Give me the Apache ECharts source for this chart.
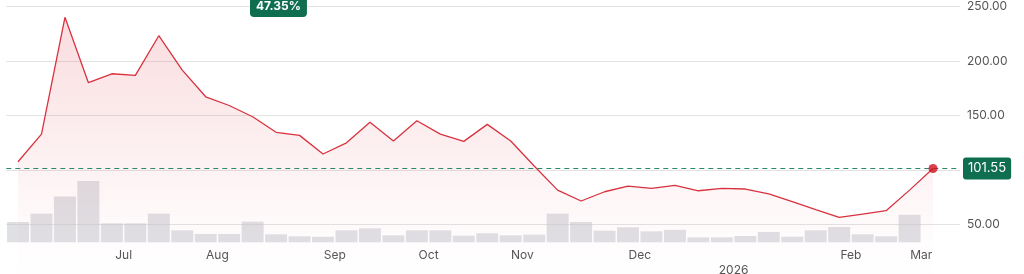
<!DOCTYPE html>
<html>
<head>
<meta charset="utf-8">
<script src="https://cdn.jsdelivr.net/npm/echarts@6/dist/echarts.min.js"></script>
<style>html,body{margin:0;padding:0;background:#fff;overflow:hidden}#c{width:1024px;height:274px}</style>
</head>
<body>
<div id="c"></div>
<script>
// Weekly closing prices (oldest -> latest)
const prices = [107.7, 133.1, 240.2, 180.2, 188.4, 187.0, 223.3, 191.8, 167.3, 159.3,
  149.0, 134.7, 131.9, 114.8, 125.1, 143.9, 126.7, 145.3, 133.1, 126.4,
  142.0, 126.7, 103.8, 81.7, 71.7, 80.2, 85.4, 83.3, 86.1, 81.1,
  83.3, 82.7, 78.3, 71.2, 63.9, 56.7, 59.7, 62.8, 81.7, 101.55];
// Weekly volume (millions)
const volumes = [2.03, 2.87, 4.57, 6.13, 1.9, 1.9, 2.87, 1.2, 0.83, 0.83,
  2.07, 0.8, 0.6, 0.55, 1.2, 1.4, 0.7, 1.2, 1.2, 0.66,
  0.9, 0.7, 0.77, 2.87, 2.03, 1.17, 1.5, 1.1, 1.25, 0.5,
  0.5, 0.63, 1.03, 0.57, 1.2, 1.53, 0.8, 0.6, 2.75, null];
// First week index of each month and its label
const monthStarts = [5, 9, 14, 18, 22, 27, 31, 36, 39];
const monthLabels = ['Jul', 'Aug', 'Sep', 'Oct', 'Nov', 'Dec', '2026', 'Feb', 'Mar'];
const priceTicks = [50, 100, 150, 200, 250];
const changeLabel = '47.35%';

const FONT = 'Inter, Roboto, sans-serif';
const lastIdx = prices.length - 1;
const lastPrice = prices[lastIdx];
const labelPos = monthStarts.map(s => s - 0.5);
const labelMap = {};
labelPos.forEach((p, k) => { labelMap[p.toFixed(1)] = monthLabels[k]; });

const chart = echarts.init(document.getElementById('c'), null, {renderer: 'canvas', width: 1024, height: 274});
const xCommon = {type: 'value', min: -0.5, max: 40.15, splitLine: {show: false}, axisLine: {show: false}, axisTick: {show: false}};
chart.setOption({
  animation: false,
  title: {
    text: changeLabel, left: 250, top: -5,
    backgroundColor: '#0f6e50', borderRadius: 4, padding: [5, 6],
    textStyle: {color: '#fff', fontSize: 12, fontWeight: 'bold', fontFamily: FONT, lineHeight: 12}
  },
  grid: [
    {left: 6.3, width: 953.7, top: 6.6, height: 272.6, outerBoundsMode: 'none', containLabel: false},
    {left: 6.3, width: 953.7, top: 172.3, height: 70, outerBoundsMode: 'none', containLabel: false}
  ],
  xAxis: [
    Object.assign({gridIndex: 0, axisLabel: {show: false}}, xCommon),
    Object.assign({gridIndex: 1, axisLabel: {
      show: true, customValues: labelPos, margin: 6, color: '#555', fontSize: 12, fontFamily: FONT,
      lineHeight: 14.5,
      formatter: v => { const t = labelMap[v.toFixed(1)]; if (!t) return ''; return /^\d+$/.test(t) ? '\n' + t : t; }
    }}, xCommon)
  ],
  yAxis: [
    {gridIndex: 0, type: 'value', position: 'right', min: 0, max: 250, interval: 50,
     axisLine: {show: false}, axisTick: {show: false},
     splitLine: {lineStyle: {color: '#e3e3e3', width: 1}},
     axisLabel: {margin: 7, color: '#555', fontSize: 12, fontFamily: FONT,
       formatter: v => (priceTicks.indexOf(v) >= 0 && v !== 100) ? v.toFixed(2) : ''}},
    {gridIndex: 1, type: 'value', min: 0, max: 7, show: false}
  ],
  series: [
    {type: 'bar', xAxisIndex: 1, yAxisIndex: 1, barWidth: 22,
     data: volumes.map((v, i) => [i, v]),
     itemStyle: {color: 'rgba(196,199,205,0.55)'}, z: 1},
    {type: 'line', xAxisIndex: 0, yAxisIndex: 0, data: prices.map((v, i) => [i, v]),
     showSymbol: false, symbol: 'none',
     lineStyle: {color: '#d8323f', width: 1.3},
     areaStyle: {color: new echarts.graphic.LinearGradient(0, 0, 0, 1, [
       {offset: 0, color: 'rgba(222,50,66,0.24)'},
       {offset: 0.85, color: 'rgba(222,50,66,0.02)'},
       {offset: 1, color: 'rgba(222,50,66,0)'}])},
     markLine: {silent: true, symbol: ['none', 'none'],
       lineStyle: {color: '#2a8a68', type: [5, 4], width: 1},
       label: {position: 'end', distance: 3, formatter: lastPrice.toFixed(2),
         backgroundColor: '#0f6e50', color: '#fff', borderRadius: 3, padding: [5, 5, 4, 5],
         fontSize: 13, fontFamily: FONT},
       data: [{yAxis: lastPrice}]},
     z: 3},
    {type: 'scatter', xAxisIndex: 0, yAxisIndex: 0, data: [[lastIdx, lastPrice]],
     symbol: 'circle', symbolSize: 9, itemStyle: {color: '#d0101f'}, z: 5}
  ]
});
</script>
</body>
</html>
